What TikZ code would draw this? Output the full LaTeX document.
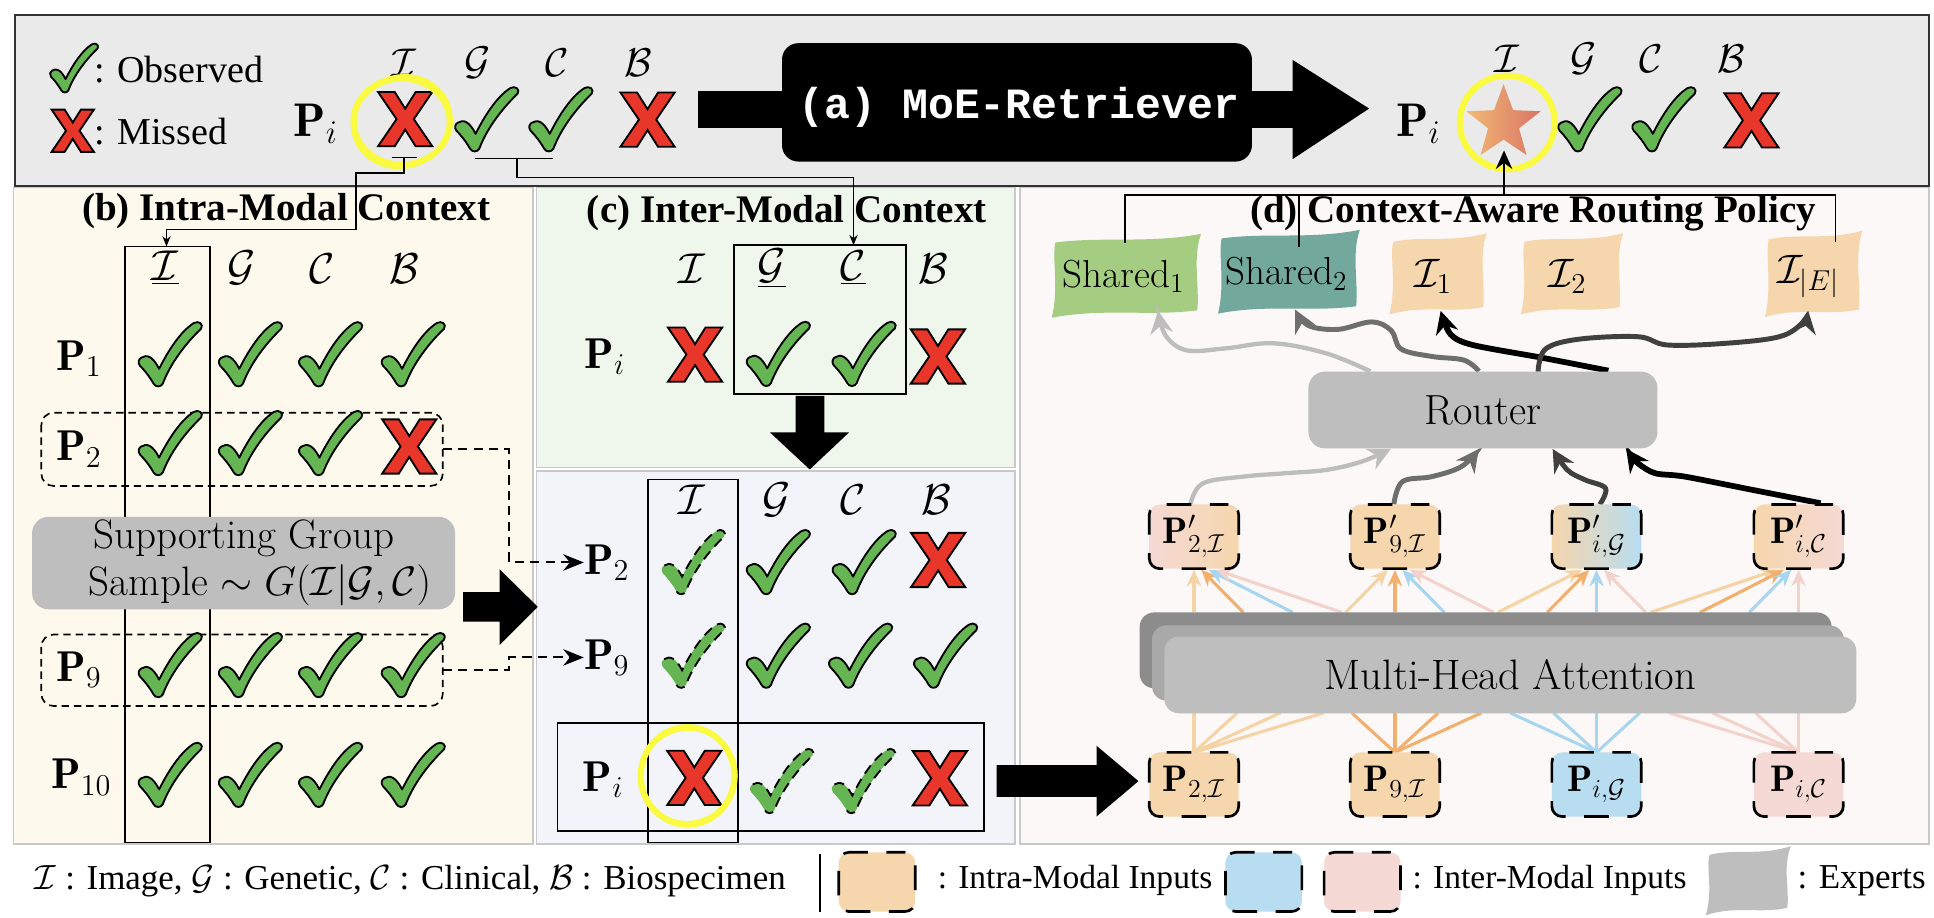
\RequirePackage{fix-cm}
\documentclass[tikz,border=0pt]{standalone}
\usepackage{fontspec}
\newfontfamily\tnr{Liberation Serif}
\newfontfamily\cour{Liberation Mono}
\usetikzlibrary{arrows.meta,shapes.geometric,calc}

\newcommand\fsz[1]{\fontsize{#1}{#1}\selectfont}

\definecolor{okgreen}{HTML}{66B553}
\definecolor{nored}{HTML}{E8372A}
\definecolor{barbg}{HTML}{EAEAEA}
\definecolor{pbbg}{HTML}{FDF9EC}
\definecolor{pcbg}{HTML}{EFF6EC}
\definecolor{pctbg}{HTML}{F3F4F9}
\definecolor{pdbg}{HTML}{FBF8F7}
\definecolor{panelline}{HTML}{C9C9C9}
\definecolor{hiyel}{HTML}{FAFA40}
\definecolor{intra}{HTML}{F5D6AD}
\definecolor{interg}{HTML}{B8DDF0}
\definecolor{interc}{HTML}{F5D9D4}
\definecolor{attA}{HTML}{F6D3A5}
\definecolor{attB}{HTML}{F2B06E}
\definecolor{attC}{HTML}{A8D6EE}
\definecolor{attD}{HTML}{F4D2CC}
\definecolor{boxgray}{HTML}{BEBEBE}
\definecolor{mhaback}{HTML}{8C8C8C}
\definecolor{mhamid}{HTML}{A9A9A9}
\definecolor{shone}{HTML}{A4CD82}
\definecolor{shtwo}{HTML}{73A99C}
\definecolor{starL}{HTML}{F2BA74}
\definecolor{starR}{HTML}{D97466}
\definecolor{wgA}{HTML}{BDBDBD}
\definecolor{wgB}{HTML}{6E6E6E}
\definecolor{wgC}{HTML}{404040}

% irregular "torn paper" expert blob: centre x, centre y, half width, half height, colour
\newcommand\expertblob[5]{%
  \fill[#5, shift={(#1,#2)}]
    (-#3,{-#4+2}) .. controls ({-#3/3},{-#4-3}) and ({#3/3},{-#4+3}) .. ({#3+4},{-#4-5})
    .. controls ({#3-3},{-#4/2}) and ({#3+3},{#4/3}) .. ({#3+1},{#4-1})
    .. controls ({#3/3},{#4+4}) and ({-#3/3},{#4-3}) .. ({-#3-3},{#4+5})
    .. controls ({-#3+3},{#4/3}) and ({-#3-3},{-#4/2}) .. (-#3,{-#4+2}) -- cycle;}

\tikzset{
  chk/.pic={\filldraw[fill=okgreen, draw=black, line width=0.9pt, line join=round]
    (-23.5,3) .. controls (-19,0) and (-14,2) .. (-9,12)
    .. controls (-2,-2) and (8,-18) .. (19,-25)
    .. controls (23,-27.5) and (27.5,-24) .. (25,-20.5)
    .. controls (12,-8) and (0,8) .. (-6,24)
    .. controls (-7.5,27) and (-12,27) .. (-13.5,24)
    .. controls (-17,18) and (-21,13) .. (-24.5,9.5)
    .. controls (-26.5,7) and (-25.5,4) .. (-23.5,3) -- cycle;},
  dchk/.pic={\fill[okgreen]
    (-23.5,3) .. controls (-19,0) and (-14,2) .. (-9,12)
    .. controls (-2,-2) and (8,-18) .. (19,-25)
    .. controls (23,-27.5) and (27.5,-24) .. (25,-20.5)
    .. controls (12,-8) and (0,8) .. (-6,24)
    .. controls (-7.5,27) and (-12,27) .. (-13.5,24)
    .. controls (-17,18) and (-21,13) .. (-24.5,9.5)
    .. controls (-26.5,7) and (-25.5,4) .. (-23.5,3) -- cycle;
    \draw[black, line width=0.9pt, dash pattern=on 5pt off 3pt]
    (-23.5,3) .. controls (-19,0) and (-14,2) .. (-9,12)
    .. controls (-2,-2) and (8,-18) .. (19,-25)
    .. controls (23,-27.5) and (27.5,-24) .. (25,-20.5)
    .. controls (12,-8) and (0,8) .. (-6,24)
    .. controls (-7.5,27) and (-12,27) .. (-13.5,24);},
  crs/.pic={\filldraw[fill=nored, draw=black, line width=0.9pt, line join=miter]
    (-22,-22) -- (-8.5,-22) -- (0,-8.5) -- (8.5,-22) -- (22,-22) -- (7,0) -- (22,22)
    -- (8.5,22) -- (0,8.5) -- (-8.5,22) -- (-22,22) -- (-7,0) -- cycle;},
  conn/.style={line width=0.8pt},
  tip/.style={-{Stealth[length=5pt,width=4pt]}},
  ttl/.style={inner sep=0pt, font=\tnr\bfseries\fsz{19}},
  big/.style={inner sep=0pt, font=\fsz{21}},
  mid/.style={inner sep=0pt, font=\fsz{19.5}},
  toppi/.style={inner sep=0pt, font=\fsz{23}},
  txt/.style={inner sep=0pt, anchor=west},
  hl/.style={hiyel, line width=3pt},
  hlb/.style={hiyel, line width=2pt},
  dbox/.style={line width=0.8pt, dash pattern=on 3.6pt off 2.4pt, rounded corners=6pt},
  pbx/.style={draw=black, line width=1.3pt, dash pattern=on 12pt off 9pt, dash phase=3pt,
    rounded corners=5pt, minimum width=43.5pt, minimum height=31.2pt, inner sep=0pt,
    font=\fsz{18}},
  lgbx/.style={pbx, minimum width=37.2pt, minimum height=28.8pt},
  panel/.style={draw=panelline, line width=0.8pt},
  wave/.style={line width=2.4pt, -{Stealth[length=11pt,width=11pt]}},
  att/.style={line width=1.5pt},
}

\begin{document}
\begin{tikzpicture}[x=0.6pt,y=-0.6pt]
\useasboundingbox (0,0) rectangle (1568,744);
\fill[white] (0,0) rectangle (1568,744);

% ---------- panel backgrounds ----------
\filldraw[panel, fill=pbbg] (11,152) rectangle (432,684);
\filldraw[panel, fill=pcbg] (435,152) rectangle (823,379);
\filldraw[panel, fill=pctbg] (435,382) rectangle (823,684);
\filldraw[panel, fill=pdbg] (827,152) rectangle (1564,684);

% ---------- top bar ----------
\filldraw[fill=barbg, draw=black!80, line width=1.2pt] (12,12) rectangle (1564,151);

\pic[scale=0.76] at (60,55) {chk};
\node[txt, font=\tnr\fsz{18.5}] (obs) at (76,56) {: Observed};
\pic[scale=0.78] at (59,106) {crs};
\node[txt, font=\tnr\fsz{18.5}] (mis) at (76,107) {: Missed};

\node[toppi] (pil) at (256,100) {$\mathbf{P}_i$};
\foreach \x/\lt [count=\k] in {327.5/\mathcal{I},387/\mathcal{G},452/\mathcal{C},517.5/\mathcal{B}}
  \node[mid] (tl\k) at (\x,51) {$\lt$};
\pic at (328.5,96.6) {crs};
\pic at (394.6,96.5) {chk};
\pic at (454.7,96.5) {chk};
\pic at (525,97) {crs};
\draw[hl] (325.7,98.6) ellipse [x radius=39, y radius=35];
\draw[hlb, rotate around={20:(325.7,98.6)}] (325.7,98.6) ellipse [x radius=40, y radius=36.5];

% MoE-Retriever arrow
\fill[black] (566,73.5) rectangle (1050,103.5);
\fill[black, rounded corners=8pt] (634,35) rectangle (1015,131);
\fill[black] (1048,48.6) -- (1110,88) -- (1048,129) -- cycle;
\node[inner sep=0pt, text=white, font=\cour\bfseries\fsz{21}] (moe) at (826,87) {(a) MoE-Retriever};

\node[toppi] (pir) at (1150,100) {$\mathbf{P}_i$};
\foreach \x/\lt [count=\k] in {1221.6/\mathcal{I},1283.7/\mathcal{G},1339/\mathcal{C},1404/\mathcal{B}}
  \node[mid] (tr\k) at (\x,48) {$\lt$};
\node[star, star points=5, star point ratio=2.4, minimum size=38pt, inner sep=0pt,
      left color=starL, right color=starR] (star) at (1219,100) {};
\draw[hl] (1222,99.3) ellipse [x radius=38.5, y radius=38];
\draw[hlb, rotate around={-25:(1222,99.3)}] (1222,99.3) ellipse [x radius=39, y radius=37];
\pic at (1289,96.5) {chk};
\pic at (1349,96.5) {chk};
\pic at (1420,97.6) {crs};

% brackets under the top row
\coordinate (brI) at (327.6,127.6);
\coordinate (brGC) at (419,128.4);
\coordinate (colbtop) at (135,199.8);
\coordinate (gcboxtop) at (692,198.8);
\draw[conn] (317.5,127.6) -- (337.8,127.6);
\draw[conn] (385,128.4) -- (448.6,128.4);

% ---------- panel (b) ----------
\node[ttl] (tb) at (232,171) {(b) Intra-Modal Context};
\draw[line width=0.9pt] (101.5,199.8) rectangle (170,683);
\node[big] (bI) at (134,217.5) {$\underline{\mathcal{I}}$};
\node[big] (bG) at (196,217.5) {$\mathcal{G}$};
\node[big] (bC) at (261,217.5) {$\mathcal{C}$};
\node[big] (bB) at (328,217.5) {$\mathcal{B}$};

\draw[dbox] (33.5,334.6) rectangle (359,394);
\draw[dbox] (33.5,514.4) rectangle (359,572.4);

\node[big] (bP1) at (64,291) {$\mathbf{P}_1$};
\node[big] (bP2) at (64,364) {$\mathbf{P}_2$};
\node[big] (bP9) at (64,543) {$\mathbf{P}_9$};
\node[big] (bP10) at (66,630) {$\mathbf{P}_{10}$};

\foreach \y in {287,359,539,628} {
  \pic at (138,\y) {chk};
  \pic at (203,\y) {chk};
  \pic at (268,\y) {chk};
}
\pic at (335,287) {chk};
\pic at (331.8,362) {crs};
\pic at (335,539) {chk};
\pic at (335,628) {chk};

\node[fill=boxgray, rounded corners=8pt, minimum width=205.8pt, minimum height=45pt, inner sep=0pt] (sg) at (197.5,456.5) {};
\node[inner sep=0pt, align=center, font=\fontsize{20}{23}\selectfont] (sgt) at (210.8,456)
  {Supporting Group\hspace*{16pt}\\Sample $\sim G(\mathcal{I}|\mathcal{G},\mathcal{C})$};

\fill[black] (375.5,480) -- (405,480) -- (405,461.5) -- (436,492) -- (405,523) -- (405,504) -- (375.5,504) -- cycle;

% ---------- panel (c) top ----------
\node[ttl] (tc) at (638,173) {(c) Inter-Modal Context};
\node[big] (cI) at (560.8,217.5) {$\mathcal{I}$};
\node[big] (cG) at (625.6,217.5) {$\underline{\mathcal{G}}$};
\node[big] (cC) at (691.9,217.5) {$\underline{\mathcal{C}}$};
\node[big] (cB) at (756.7,217.5) {$\mathcal{B}$};
\node[big] (cPi) at (490.5,289) {$\mathbf{P}_i$};
\pic at (563.5,287.5) {crs};
\pic at (631,286.7) {chk};
\pic at (700.5,286.7) {chk};
\pic at (760.4,289) {crs};
\draw[line width=0.9pt] (595.4,198.8) rectangle (734.3,319.2);
\fill[black] (645,321) -- (668.4,321) -- (668.4,350.6) -- (688.3,350.6) -- (656.5,380.6) -- (624.3,350.6) -- (645,350.6) -- cycle;

% ---------- panel (c) bottom ----------
\draw[line width=0.9pt] (525.6,388.8) rectangle (598.6,683);
\node[big] (dI) at (560.8,405) {$\mathcal{I}$};
\node[big] (dG) at (629.7,405) {$\mathcal{G}$};
\node[big] (dC) at (691.9,405) {$\mathcal{C}$};
\node[big] (dB) at (759.4,405) {$\mathcal{B}$};
\node[big] (cP2) at (492,456) {$\mathbf{P}_2$};
\node[big] (cP9) at (492,533) {$\mathbf{P}_9$};
\node[big] (cPj) at (489,632) {$\mathbf{P}_i$};

\pic at (562,455.5) {dchk};
\pic at (631,455.5) {chk};
\pic at (700.6,455.5) {chk};
\pic at (760.6,454) {crs};
\pic at (562,531.4) {dchk};
\pic at (631,531.4) {chk};
\pic at (697.7,531.4) {chk};
\pic at (766.6,531.4) {chk};
\pic at (562.9,630.7) {crs};
\pic at (633.7,633) {dchk};
\pic at (700,633) {dchk};
\pic at (762,631) {crs};
\draw[line width=0.9pt] (452,586) rectangle (797.8,674);
\draw[hl] (557.5,629) ellipse [x radius=38, y radius=39.5];
\draw[hlb, rotate around={30:(557.5,629)}] (557.5,629) ellipse [x radius=39, y radius=38];

% dashed links from the supporting group rows
\coordinate (p2r) at (359,364.3);
\coordinate (p9r) at (359,543.4);
\draw[line width=1pt, dash pattern=on 4.5pt off 3pt, -{Stealth[length=10pt,width=8pt]}] (p2r) -- ++(54,0) |- (cP2.west);
\draw[line width=1pt, dash pattern=on 4.5pt off 3pt, -{Stealth[length=10pt,width=8pt]}] (p9r) -- ++(54,0) |- (cP9.west);

% ---------- panel (d) ----------
\expertblob{912.7}{223.6}{57}{29}{shone}
\expertblob{1044.5}{220.3}{54}{29}{shtwo}
\expertblob{1165.5}{222}{36}{28}{intra}
\expertblob{1274}{222}{38}{28}{intra}
\expertblob{1470}{222}{36}{30}{intra}
\node[inner sep=0pt, font=\fsz{19}] (sh1) at (911,224) {Shared$_1$};
\node[inner sep=0pt, font=\fsz{19}] (sh2) at (1043,222) {Shared$_2$};
\node[inner sep=0pt, font=\fsz{20}] (ex1) at (1162,224) {$\mathcal{I}_1$};
\node[inner sep=0pt, font=\fsz{20}] (ex2) at (1271,224) {$\mathcal{I}_2$};
\node[inner sep=0pt, font=\fsz{20}] (exE) at (1466,224) {$\mathcal{I}_{|E|}$};

\node[ttl] (td) at (1243,173) {(d) Context-Aware Routing Policy};

\coordinate (e1top) at (912,197);
\coordinate (e2top) at (1053,200);
\coordinate (eEtop) at (1488,196);
\coordinate (hubL) at (912,158);
\coordinate (hubR) at (1488,158);
\coordinate (hubS) at (1219.4,158);
\coordinate (startip) at (1219.4,122);

% wavy routing arrows around the router
\draw[wgA, wave, line width=2.1pt] plot[smooth, tension=0.6] coordinates {(1111,301) (1075,286.4) (1032,278.3) (994,282.4) (962,284) (945,272) (939,252)};
\draw[wgB, wave] plot[smooth, tension=0.6] coordinates {(1199,301) (1187,292) (1161,289) (1136,283) (1128,268) (1112,261) (1085,267) (1061,264) (1050,251)};
\draw[black, wave, line width=2.8pt] plot[smooth, tension=0.5] coordinates {(1304,300.5) (1250,290) (1194,279.7) (1176,271) (1168,252)};
\draw[wgC, wave] plot[smooth, tension=0.6] coordinates {(1247,301.3) (1253,283) (1280,275) (1328,273) (1352,279.7) (1399.5,278.3) (1442.5,273) (1461,262) (1466,252)};

\draw[wgA, wave, line width=2.1pt] plot[smooth, tension=0.6] coordinates {(965,409) (975,392) (1008,386.4) (1041.7,383.7) (1075,381) (1103.7,374.3) (1127.6,364)};
\draw[wgB, wave] plot[smooth, tension=0.6] coordinates {(1130,409) (1137,390.5) (1161,386.4) (1184.8,378.3) (1199,364)};
\draw[wgC, wave] plot[smooth, tension=0.6] coordinates {(1297,409) (1301.7,395.9) (1285,389) (1270.7,381) (1258.8,364)};
\draw[black, wave, line width=2.8pt] plot[smooth, tension=0.5] coordinates {(1476,408) (1420,397) (1366,386.4) (1342,383.7) (1328,375.6) (1318.4,364)};

\node[fill=boxgray, rounded corners=8pt, minimum width=169.8pt, minimum height=37.3pt, inner sep=0pt, font=\fsz{20.5}] (router) at (1202.3,332.4) {Router};

% attention lines below the attention block
\foreach \i/\cx/\col in {0/968/attA,1/1131/attB,2/1294.4/attC,3/1458.2/attD} {
  \foreach \j in {0,1,2,3} {
    \draw[\col, att] (\cx,610) -- ({\cx+35*(\j-\i)},578);
  }
}
% attention arrows above the attention block
\foreach \j/\cx in {0/968,1/1131,2/1294.4,3/1458.2} {
  \foreach \i/\col in {0/attA,1/attB,2/attC,3/attD} {
    \draw[\col, att, -{Stealth[length=8pt,width=7pt]}] ({\cx+40*(\i-\j)},496.5) -- ({\cx+6*(\i-\j)},462);
  }
}

% multi-head attention stack
\fill[mhaback, rounded corners=7pt] (924,496.5) rectangle (1485,558);
\fill[mhamid, rounded corners=7pt] (934,507) rectangle (1495,568);
\node[fill=boxgray, rounded corners=7pt, minimum width=336.6pt, minimum height=37.3pt, inner sep=0pt, font=\fsz{20.7}] (mha) at (1224.5,547.2) {Multi-Head Attention};

% token boxes
\node[pbx, fill=intra] (b0) at (968,636) {$\mathbf{P}_{2,\mathcal{I}}$};
\node[pbx, fill=intra] (b1) at (1131,636) {$\mathbf{P}_{9,\mathcal{I}}$};
\node[pbx, fill=interg] (b2) at (1294.4,636) {$\mathbf{P}_{i,\mathcal{G}}$};
\node[pbx, fill=interc] (b3) at (1458.2,636) {$\mathbf{P}_{i,\mathcal{C}}$};
\node[pbx, left color=interc, right color=intra] (t0) at (968,435) {$\mathbf{P}'_{2,\mathcal{I}}$};
\node[pbx, fill=intra] (t1) at (1131,435) {$\mathbf{P}'_{9,\mathcal{I}}$};
\node[pbx, left color=intra, right color=interg] (t2) at (1294.4,435) {$\mathbf{P}'_{i,\mathcal{G}}$};
\node[pbx, left color=intra, right color=interc] (t3) at (1458.2,435) {$\mathbf{P}'_{i,\mathcal{C}}$};

\fill[black] (808,620.3) -- (889,620.3) -- (889,604.6) -- (923,633.3) -- (889,662) -- (889,646) -- (808,646) -- cycle;

% ---------- context connectors ----------
\draw[conn, tip] (brI) -- (327.6,140) -- (288.6,140) -- (288.6,186) -- (135,186) -- (colbtop);
\draw[conn, tip] (brGC) -- (419,143.8) -- (692,143.8) -- (gcboxtop);
\draw[conn] (e1top) -- (hubL) -- (hubR) -- (eEtop);
\draw[conn] (e2top) -- (1053,158);
\draw[conn, -{Stealth[length=9pt,width=8pt]}] (hubS) -- (startip);

% ---------- legend ----------
\node[txt, font=\tnr\fsz{17}] (lg1) at (28,714) {$\mathcal{I}$ : Image, $\mathcal{G}$ : Genetic, $\mathcal{C}$ : Clinical, $\mathcal{B}$ : Biospecimen};
\draw[conn] (665,692) -- (665,739);
\node[lgbx, fill=intra] (lgA) at (711,715) {};
\node[txt, font=\tnr\fsz{16.3}] (lgAt) at (760,714) {: Intra-Modal Inputs};
\node[lgbx, fill=interg] (lgB) at (1024.5,715) {};
\node[lgbx, fill=interc] (lgC) at (1104.5,715) {};
\node[txt, font=\tnr\fsz{16.3}] (lgCt) at (1145,714) {: Inter-Modal Inputs};
\expertblob{1417}{714}{31}{23}{boxgray}
\node[txt, font=\tnr\fsz{17}] (lgDt) at (1457,714) {: Experts};
\end{tikzpicture}
\end{document}
